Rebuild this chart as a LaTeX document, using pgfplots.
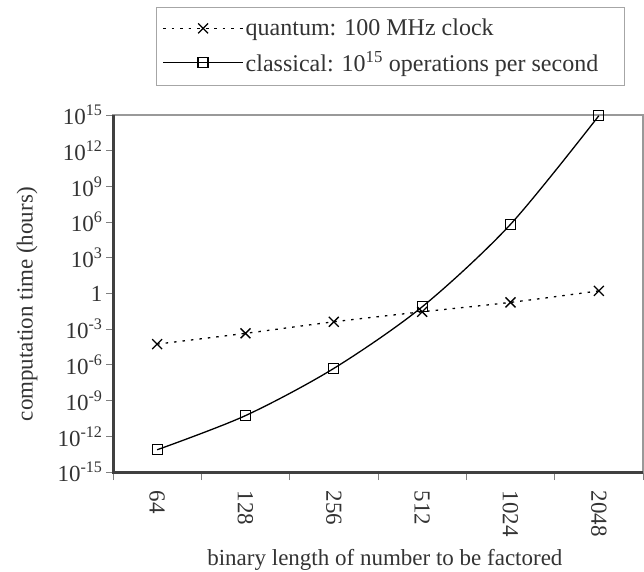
\documentclass[border=0pt]{standalone}
\usepackage{fontspec}
\setmainfont{Liberation Serif}
\usepackage{pgfplots}
\pgfplotsset{compat=1.18}
\newcommand\fs{\fontsize{23}{27}\selectfont}
\begin{document}
\begin{tikzpicture}
\path[use as bounding box] (0pt,0pt) rectangle (644pt,-571pt);
\begin{axis}[
    at={(113pt,-472pt)}, anchor=south west,
    scale only axis, width=530pt, height=357pt,
    ymode=log,
    xmin=-0.5, xmax=5.5,
    ymin=1e-15, ymax=1e15,
    xtick={0,...,5},
    xticklabels={64,128,256,512,1024,2048},
    minor xtick={-0.5,0.5,...,5.5},
    ytick={1e-15,1e-12,1e-9,1e-6,1e-3,1,1e3,1e6,1e9,1e12,1e15},
    yticklabels={10\textsuperscript{-15},10\textsuperscript{-12},10\textsuperscript{-9},10\textsuperscript{-6},10\textsuperscript{-3},1,10\textsuperscript{3},10\textsuperscript{6},10\textsuperscript{9},10\textsuperscript{12},10\textsuperscript{15}},
    yminorticks=false,
    xtick pos=left, ytick pos=left,
    tick align=outside,
    major tick length=7pt, minor tick length=8pt,
    major x tick style={draw=none},
    tick style={gray, line width=1pt},
    xticklabel style={rotate=-90, anchor=west},
    xticklabel shift=8pt,
    tick label style={font=\fs, text=black!80},
    axis line style={gray!80, line width=1.2pt},
    xlabel={binary length of number to be factored},
    ylabel={computation time (hours)},
    label style={font=\fs, text=black!80},
    xlabel style={at={(axis description cs:0.513,-0.245)}, anchor=center},
    ylabel style={at={(axis description cs:-0.162,0.47)}, anchor=center},
    legend cell align=left,
    legend style={at={(rel axis cs:0.081,1.303)}, anchor=north west,
        draw=gray!70, line width=1pt, font=\fontsize{24}{28}\selectfont,
        text=black!80, row sep=10pt, inner xsep=6pt, inner ysep=10pt},
    legend image code/.code={\draw[mark repeat=2,mark phase=2,#1]
        plot coordinates {(0pt,0pt) (40pt,0pt) (80pt,0pt)};},
    clip=false,
]
\addplot[black, line width=1.3pt, dash pattern=on 2.5pt off 6pt,
    mark=x, mark size=7pt, mark options={solid}, smooth] coordinates {
    (0,5.6e-5)(1,4.5e-4)(2,4.2e-3)(3,2.9e-2)(4,1.8e-1)(5,1.66)
};
\addlegendentry{quantum: 100 MHz clock}
\addplot[black, line width=1.3pt,
    mark=square, mark size=5pt, mark options={solid}, smooth] coordinates {
    (0,7.4e-14)(1,5.5e-11)(2,5.1e-7)(3,7.6e-2)(4,6.5e5)(5,8.7e14)
};
\addlegendentry{classical: 10\textsuperscript{15} operations per second\hspace{18pt}\null}
\draw[black!75, line width=3pt] (rel axis cs:0,1) -- (rel axis cs:0,0) -- (rel axis cs:1,0);
\end{axis}
\end{tikzpicture}
\end{document}
